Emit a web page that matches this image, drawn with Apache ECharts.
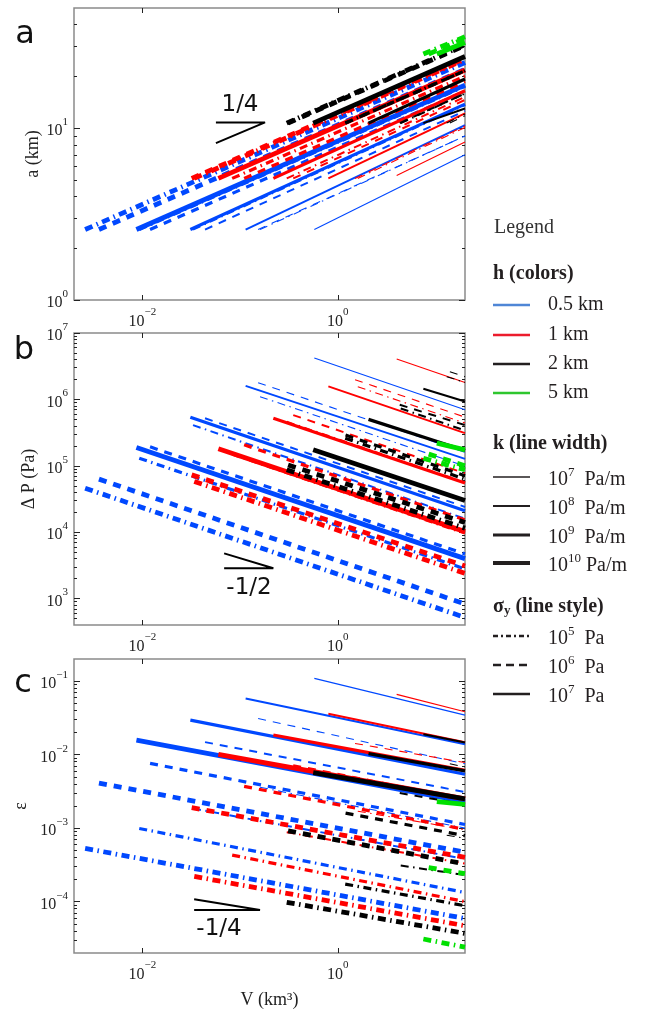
<!DOCTYPE html>
<html><head><meta charset="utf-8">
<script src="https://cdn.jsdelivr.net/npm/echarts@6/dist/echarts.min.js"></script>
<style>html,body{margin:0;padding:0;background:#fff}#c{width:652px;height:1013px}</style>
</head><body><div id="c"></div><script>
// ---------- data ----------
const vMin = 0.002, vMax = 20;
const aRange = [1, 50], dpRange = [400, 1e7], epsRange = [2e-5, 0.2];
const xMajor = [0.01, 1];
const aMajor = [1, 10];
const dpMajor = [1e3, 1e4, 1e5, 1e6, 1e7];
const epsMajor = [1e-4, 1e-3, 1e-2, 1e-1];
const hLabels = ['0.5 km', '1 km', '2 km', '5 km'];
const kExp = ['7', '8', '9', '10'];
const sigmaExp = ['5', '6', '7'];

// line parameters: h index (colour), k index (width), sigma index (0 dash-dot, 1 dashed, 2 solid)
const lineH   = [0,0,0,0, 0,0,0,0, 0,0,0,0,  1,1,1,1, 1,1,1,1, 1,1,1,1,  2,2,2, 2,2,2,2, 2,2,2,2,  3,3,3];
const lineK   = [0,1,2,3, 0,1,2,3, 0,1,2,3,  0,1,2,3, 0,1,2,3, 0,1,2,3,  1,2,3, 0,1,2,3, 0,1,2,3,  3,3,3];
const lineSig = [2,2,2,2, 1,1,1,1, 0,0,0,0,  2,2,2,2, 1,1,1,1, 0,0,0,0,  2,2,2, 1,1,1,1, 0,0,0,0,  2,1,0];
const lineV0  = [0.575,0.114,0.031,0.0087, 0.153,0.0438,0.012,0.0036, 0.16,0.033,0.0093,0.0026,
                 4.0,0.80,0.219,0.060, 1.5,0.35,0.11,0.032, 1.6,0.30,0.083,0.034,
                 7.5,2.06,0.56, 14,4.3,1.2,0.31, 13,4.4,1.19,0.30,
                 10.3,8.5,7.5];
const aStart  = [2.57,2.57,2.57,2.57, 2.57,2.57,2.57,2.57, 2.57,2.57,2.57,2.57,
                 5.3,5.1,5.1,5.1, 5.1,5.1,5.1,5.1, 5.1,5.1,5.1,5.1,
                 10.7,10.7,10.7, 10.7,10.7,10.7,10.7, 10.7,10.7,10.7,10.7,
                 27,27,27];
const aEnd    = [7.0,10.4,13.8,17.8, 9.0,12.6,16.4,22.0, 9.0,13.6,17.5,24.1,
                 8.3,12.2,16.5,21.8, 10.3,14.6,18.7,25.5, 10.1,15.2,20.1,25.1,
                 13.0,19.3,26.1, 11.8,15.9,21.6,30.3, 12.1,15.9,21.6,30.6,
                 31.5,33.2,34.0];
const dpStart = [4.2e6,1.6e6,5.4e5,1.88e5, 1.78e6,5.2e5,1.93e5,6.3e4, 1.1e6,4.1e5,1.3e5,4.6e4,
                 4.06e6,1.57e6,5.2e5,1.8e5, 1.98e6,5.8e5,2.07e5,7.3e4, 1.55e6,4.6e5,1.5e5,5.8e4,
                 1.45e6,5.0e5,1.74e5, 2.6e6,8.3e5,2.9e5,1.03e5, 2.2e6,7.3e5,2.6e5,8.7e4,
                 2.2e5,1.5e5,1.3e5];
const dpEnd   = [7.0e5,1.27e5,2.1e4,4.0e3, 1.6e5,2.4e4,4.7e3,8.3e2, 9.9e4,1.6e4,2.8e3,5.2e2,
                 1.8e6,3.1e5,5.5e4,1.02e4, 5.4e5,7.7e4,1.53e4,3.1e3, 4.4e5,5.6e4,9.7e3,2.4e3,
                 9.3e5,1.7e5,3.0e4, 2.2e6,4.1e5,7.1e4,1.4e4, 1.8e6,3.4e5,6.3e4,1.15e4,
                 1.74e5,1.0e5,8.7e4];
const epsStart= [0.109,0.058,0.0295,0.0158, 0.031,0.0148,0.0076,0.0041, 3.6e-3,1.85e-3,9.9e-4,5.3e-4,
                 0.066,0.036,0.0185,0.0101, 0.0142,0.0072,0.0037,0.0019, 1.7e-3,8.8e-4,4.3e-4,2.2e-4,
                 0.0189,0.0103,0.0057, 0.0075,0.0030,1.6e-3,9.2e-4, 8.0e-4,3.1e-4,1.73e-4,9.8e-5,
                 0.0023,2.9e-4,3.1e-5];
const epsEnd  = [0.0345,0.0138,0.0054,0.0023, 0.0075,0.0031,0.00112,4.7e-4, 1.0e-3,3.8e-4,1.33e-4,5.9e-5,
                 0.0384,0.0147,0.0061,0.0025, 0.0078,0.0025,9.6e-4,4.0e-4, 9.5e-4,3.3e-4,1.0e-4,4.7e-5,
                 0.0146,0.006,0.0025, 0.0068,0.0021,7.9e-4,3.25e-4, 7.3e-4,2.3e-4,8.8e-5,3.7e-5,
                 0.0021,2.4e-4,2.4e-5];

// slope triangles (data coordinates)
const triAx = [0.0566, 0.18, 0.0566],  triAy = [8.18, 10.8, 10.8];
const triBx = [0.0687, 0.219, 0.0687], triBy = [4.8e3, 2.86e3, 2.86e3];
const triCx = [0.0339, 0.16, 0.0339],  triCy = [1.08e-4, 7.7e-5, 7.7e-5];

// ---------- styles ----------
const serif = 'Liberation Serif';
const sans = 'DejaVu Sans';
const plotColors = ['#0048ff', '#ff0000', '#000000', '#00e000'];
const legColors = ['#4f86d6', '#ec1c2c', '#231f20', '#2ec62e'];
const widths = [1.1, 2.0, 3.2, 4.8];
const dashes = [[8, 4.5, 1.5, 4.5], [8, 7], 'solid'];

function minorOf(major, lo, hi) {
  const out = [];
  const start = Math.floor(Math.log10(lo)), end = Math.ceil(Math.log10(hi));
  for (let e = start; e <= end; e++) for (let m = 2; m <= 9; m++) {
    const v = m * Math.pow(10, e);
    if (v > lo * 1.0001 && v < hi * 0.9999) out.push(v);
  }
  return out;
}
function expLabel(v) {
  const e = Math.round(Math.log10(v));
  return '{b|10}{s|' + (e < 0 ? '\u2212' + (-e) : e) + '}';
}
const richLab = {
  b: { fontFamily: serif, fontSize: 16, color: '#222', padding: [6, 0, 0, 0] },
  s: { fontFamily: serif, fontSize: 11, color: '#222', padding: [0, 0, 12, 0] }
};

const grids = [
  { left: 74, top: 8, width: 391, height: 292 },
  { left: 74, top: 333, width: 391, height: 292 },
  { left: 74, top: 659, width: 391, height: 294 }
].map(g => Object.assign(g, { show: true, borderColor: '#8a8a8a', borderWidth: 1.5, containLabel: false, outerBoundsMode: 'none' }));

const panels = [
  { range: aRange, major: aMajor, start: aStart, end: aEnd, name: 'a (km)', gap: 32, tx: triAx, ty: triAy },
  { range: dpRange, major: dpMajor, start: dpStart, end: dpEnd, name: '\u0394 P (Pa)', gap: 36, tx: triBx, ty: triBy },
  { range: epsRange, major: epsMajor, start: epsStart, end: epsEnd, name: '\u03b5', gap: 44, tx: triCx, ty: triCy }
];

const xAxes = [], yAxes = [], series = [];
panels.forEach((p, i) => {
  const tickStyle = { color: '#222', width: 1 };
  xAxes.push({ type: 'log', logBase: 10, gridIndex: i, min: vMin, max: vMax, position: 'bottom',
    axisLine: { show: false }, splitLine: { show: false },
    axisTick: { show: true, inside: true, length: 5, customValues: xMajor, lineStyle: tickStyle },
    axisLabel: { show: true, customValues: xMajor, formatter: expLabel, rich: richLab, margin: 7 },
    name: i === 2 ? 'V (km\u00b3)' : '', nameLocation: 'middle', nameGap: 38, nameMoveOverlap: false,
    nameTextStyle: { fontFamily: serif, fontSize: 18, color: '#222' } });
  xAxes.push({ type: 'log', logBase: 10, gridIndex: i, min: vMin, max: vMax, position: 'top',
    axisLine: { show: false }, splitLine: { show: false },
    axisTick: { show: true, inside: true, length: 5, customValues: xMajor, lineStyle: tickStyle },
    axisLabel: { show: false } });
  const minor = minorOf(p.major, p.range[0], p.range[1]);
  ['left', 'right'].forEach(pos => {
    yAxes.push({ type: 'log', logBase: 10, gridIndex: i, min: p.range[0], max: p.range[1], position: pos,
      axisLine: { show: false }, splitLine: { show: false },
      axisTick: { show: true, inside: true, length: 6, customValues: p.major, lineStyle: tickStyle },
      axisLabel: pos === 'left' ? { show: true, customValues: p.major, formatter: expLabel, rich: richLab, margin: 6 } : { show: false },
      name: pos === 'left' ? p.name : '', nameLocation: 'middle', nameGap: p.gap, nameMoveOverlap: false,
      nameTextStyle: { fontFamily: serif, fontSize: 18, color: '#222' } });
    yAxes.push({ type: 'log', logBase: 10, gridIndex: i, min: p.range[0], max: p.range[1], position: pos,
      axisLine: { show: false }, splitLine: { show: false },
      axisTick: { show: true, inside: true, length: 3, customValues: minor, lineStyle: tickStyle },
      axisLabel: { show: false } });
  });
  for (let j = 0; j < lineV0.length; j++) {
    series.push({ type: 'line', xAxisIndex: i * 2, yAxisIndex: i * 4, silent: true,
      symbol: 'none', showSymbol: false, animation: false,
      data: [[lineV0[j], p.start[j]], [vMax, p.end[j]]],
      lineStyle: { color: plotColors[lineH[j]], width: widths[lineK[j]], type: dashes[lineSig[j]], cap: 'butt' } });
  }
  series.push({ type: 'line', xAxisIndex: i * 2, yAxisIndex: i * 4, silent: true, symbol: 'none', animation: false,
    data: p.tx.map((x, k) => [x, p.ty[k]]), lineStyle: { color: '#000', width: 2 } });
});

// ---------- graphic: letters, slope labels, legend ----------
const g = [];
function txt(x, y, text, opt) {
  g.push({ type: 'text', x: x, y: y, z: 100, style: Object.assign({ text: text, fill: '#231f20',
    fontFamily: serif, fontSize: 20, verticalAlign: 'middle', align: 'left' }, opt || {}) });
}
txt(25, 35, 'a', { fontFamily: sans, fontSize: 32, align: 'center', fill: '#111' });
txt(24, 351, 'b', { fontFamily: sans, fontSize: 32, align: 'center', fill: '#111' });
txt(23, 684, 'c', { fontFamily: sans, fontSize: 32, align: 'center', fill: '#111' });
txt(240, 105, '1/4', { fontFamily: sans, fontSize: 23, align: 'center', fill: '#111' });
txt(249, 588, '-1/2', { fontFamily: sans, fontSize: 23, align: 'center', fill: '#111' });
txt(219, 929, '-1/4', { fontFamily: sans, fontSize: 23, align: 'center', fill: '#111' });

const legX1 = 493, legX2 = 530, legTX = 548;
txt(494, 228, 'Legend', { fill: '#333' });
txt(legX1, 274, 'h (colors)', { fontWeight: 'bold' });
const hY = [305, 335, 364, 393];
hLabels.forEach((t, i) => {
  g.push({ type: 'line', shape: { x1: legX1, y1: hY[i], x2: legX2, y2: hY[i] }, style: { stroke: legColors[i], lineWidth: 2.6 } });
  txt(legTX, hY[i], t);
});
txt(legX1, 444, 'k (line width)', { fontWeight: 'bold' });
const kY = [477, 506, 535, 563];
const kW = [1.3, 2.0, 2.8, 4.0];
const legRich = {
  n: { fontFamily: serif, fontSize: 20, fill: '#231f20', padding: [5, 0, 0, 0] },
  s: { fontFamily: serif, fontSize: 13, fill: '#231f20', padding: [0, 0, 9, 0] }
};
kExp.forEach((e, i) => {
  g.push({ type: 'line', shape: { x1: legX1, y1: kY[i], x2: legX2, y2: kY[i] }, style: { stroke: '#231f20', lineWidth: kW[i] } });
  txt(legTX, kY[i], '{n|10}{s|' + e + '}{n|' + (e.length > 1 ? ' ' : '  ') + 'Pa/m}', { rich: legRich });
});
txt(legX1, 607, '{b|\u03c3}{sub|y}{b| (line style)}', { rich: {
  b: { fontFamily: serif, fontSize: 20, fontWeight: 'bold', fill: '#231f20' },
  sub: { fontFamily: serif, fontSize: 13, fontWeight: 'bold', fill: '#231f20', padding: [8, 0, 0, 0] } } });
const sY = [636, 665, 694];
const legDash = [[5, 3, 2, 3], [8, 5], null];
sigmaExp.forEach((e, i) => {
  g.push({ type: 'line', shape: { x1: legX1, y1: sY[i], x2: legX2, y2: sY[i] }, style: { stroke: '#231f20', lineWidth: 2.4, lineDash: legDash[i] } });
  txt(legTX, sY[i], '{n|10}{s|' + e + '}{n|  Pa}', { rich: legRich });
});

const chart = echarts.init(document.getElementById('c'), null, { renderer: 'canvas', width: 652, height: 1013 });
chart.setOption({
  animation: false,
  backgroundColor: '#fff',
  grid: grids,
  xAxis: xAxes,
  yAxis: yAxes,
  series: series,
  graphic: { elements: g }
});
</script></body></html>
